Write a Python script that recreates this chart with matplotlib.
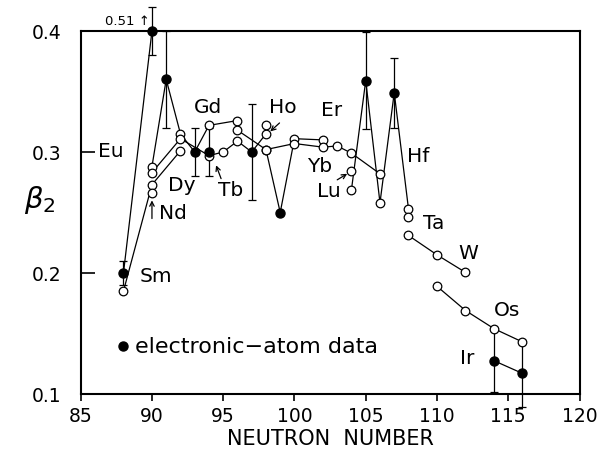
import matplotlib
matplotlib.use('Agg')
import matplotlib.pyplot as plt
import numpy as np

plt.rcParams['font.family'] = ['DejaVu Sans']

# ---------------- data ----------------
Y_TOP = 0.40

# isotope chains (neutron number, beta2)
eu_n = [88, 90];                         eu_b = [0.200, 0.51]
sm_n = [88, 90, 92];                     sm_b = [0.185, 0.273, 0.301]
nd_n = [90];                             nd_b = [0.266]
gd_n = [90, 91, 92, 93, 94, 96];         gd_b = [0.288, 0.360, 0.315, 0.300, 0.322, 0.326]
tb_n = [94];                             tb_b = [0.300]
dy_n = [90, 92, 94, 95, 96, 97, 98];     dy_b = [0.283, 0.311, 0.297, 0.300, 0.309, 0.300, 0.315]
ho_n = [98];                             ho_b = [0.322]
er_n = [96, 98, 99, 100, 102];           er_b = [0.318, 0.302, 0.250, 0.311, 0.310]
yb_n = [98, 100, 102, 103, 104, 106];    yb_b = [0.302, 0.307, 0.304, 0.305, 0.299, 0.282]
lu_n = [104];                            lu_b = [0.2845]
hf_n = [104, 105, 106, 107, 108];        hf_b = [0.269, 0.359, 0.258, 0.349, 0.253]
ta_n = [108];                            ta_b = [0.246]
w_n = [108, 110, 112];                   w_b = [0.231, 0.215, 0.2005]
os_n = [110, 112, 114, 116];             os_b = [0.189, 0.169, 0.154, 0.143]
ir_n = [114, 116];                       ir_b = [0.1275, 0.117]

# electronic-atom data (filled points) with errors
el_n = [88, 90, 91, 93, 94, 97, 99, 105, 107, 114, 116]
el_b = [0.200, 0.51, 0.360, 0.300, 0.300, 0.300, 0.250, 0.359, 0.349, 0.1275, 0.117]
el_err = [0.010, 0.020, 0.040, 0.020, 0.020, 0.040, 0.0, 0.040, 0.029, 0.026, 0.028]

chains = [(eu_n, eu_b), (sm_n, sm_b), (nd_n, nd_b), (gd_n, gd_b), (tb_n, tb_b),
          (dy_n, dy_b), (ho_n, ho_b), (er_n, er_b), (yb_n, yb_b), (lu_n, lu_b),
          (hf_n, hf_b), (ta_n, ta_b), (w_n, w_b), (os_n, os_b), (ir_n, ir_b)]

x_ticks = [85, 90, 95, 100, 105, 110, 115, 120]
y_ticks = [0.1, 0.2, 0.3, 0.4]
y_tick_labels = ['0.1', '0.2', '0.3', '0.4']

# ---------------- figure ----------------
fig = plt.figure(figsize=(5.97, 4.52), dpi=100)
L, R, T, B = 80.7, 579.5, 32.0, 395.0
ax = fig.add_axes([L / 597, 1 - B / 452, (R - L) / 597, (B - T) / 452])

filled = set(zip(el_n, el_b))

for n, b in chains:
    bp = np.minimum(np.array(b), Y_TOP)
    ax.plot(n, bp, '-', color='black', lw=0.9, zorder=2, clip_on=False)
    on = [x for x, y in zip(n, b) if (x, y) not in filled]
    ob = [min(y, Y_TOP) for x, y in zip(n, b) if (x, y) not in filled]
    ax.plot(on, ob, 'o', ms=6.2, mfc='white', mec='black', mew=0.9, ls='none',
            zorder=4, clip_on=False)

elb = np.minimum(np.array(el_b), Y_TOP)
for n, b, e in zip(el_n, elb, el_err):
    if e > 0:
        ax.errorbar(n, b, yerr=e, fmt='none', ecolor='black', elinewidth=0.9,
                    capsize=3, capthick=0.9, zorder=3, clip_on=False)
ax.plot(el_n, elb, 'o', ms=6.5, color='black', ls='none', zorder=5, clip_on=False)

# ---------------- labels ----------------
fs = 14.5
ax.text(87.1, 0.301, 'Eu', fontsize=fs, ha='center', va='center')
ax.text(90.3, 0.198, 'Sm', fontsize=fs, ha='center', va='center')
ax.text(93.9, 0.338, 'Gd', fontsize=fs, ha='center', va='center')
ax.text(92.1, 0.2735, 'Dy', fontsize=fs, ha='center', va='center')
ax.text(95.5, 0.269, 'Tb', fontsize=fs, ha='center', va='center')
ax.text(91.5, 0.250, 'Nd', fontsize=fs, ha='center', va='center')
ax.text(99.2, 0.338, 'Ho', fontsize=fs, ha='center', va='center')
ax.text(102.6, 0.3355, 'Er', fontsize=fs, ha='center', va='center')
ax.text(101.8, 0.289, 'Yb', fontsize=fs, ha='center', va='center')
ax.text(102.4, 0.268, 'Lu', fontsize=fs, ha='center', va='center')
ax.text(108.7, 0.297, 'Hf', fontsize=fs, ha='center', va='center')
ax.text(109.8, 0.242, 'Ta', fontsize=fs, ha='center', va='center')
ax.text(112.2, 0.217, 'W', fontsize=fs, ha='center', va='center')
ax.text(114.9, 0.170, 'Os', fontsize=fs, ha='center', va='center')
ax.text(112.1, 0.130, 'Ir', fontsize=fs, ha='center', va='center')

arr = dict(arrowstyle='->', lw=0.9, color='black', shrinkA=0, shrinkB=0,
           mutation_scale=8)
ax.annotate('', xy=(90.0, 0.260), xytext=(90.0, 0.245), arrowprops=arr)
ax.annotate('', xy=(94.5, 0.289), xytext=(94.85, 0.278), arrowprops=arr)
ax.annotate('', xy=(98.3, 0.317), xytext=(98.95, 0.324), arrowprops=arr)
ax.annotate('', xy=(103.7, 0.282), xytext=(103.0, 0.277), arrowprops=arr)

ax.text(86.7, 0.409, '0.51 \u2191', fontsize=9.5, ha='left', va='center',
        clip_on=False)

# legend
ax.plot([88.0], [0.140], 'o', color='black', ms=6.5)
ax.text(88.8, 0.140, 'electronic\u2212atom data', fontsize=16, ha='left', va='center')

# ---------------- axes ----------------
ax.set_xlim(85, 120)
ax.set_ylim(0.1, Y_TOP)
ax.set_xticks(x_ticks)
ax.set_yticks(y_ticks)
ax.set_yticklabels(y_tick_labels)
ax.tick_params(axis='x', direction='out', length=5, width=1.2, labelsize=13.5, pad=4)
ax.tick_params(axis='y', direction='in', length=10, width=1.2, labelsize=13.5, pad=14)
for s in ax.spines.values():
    s.set_linewidth(1.5)

ax.set_xlabel('NEUTRON  NUMBER', fontsize=15, labelpad=2)
fig.text(0.067, 0.557, r'$\beta_2$', fontsize=21, ha='center', va='center')

fig.savefig('out.png', dpi=100)
